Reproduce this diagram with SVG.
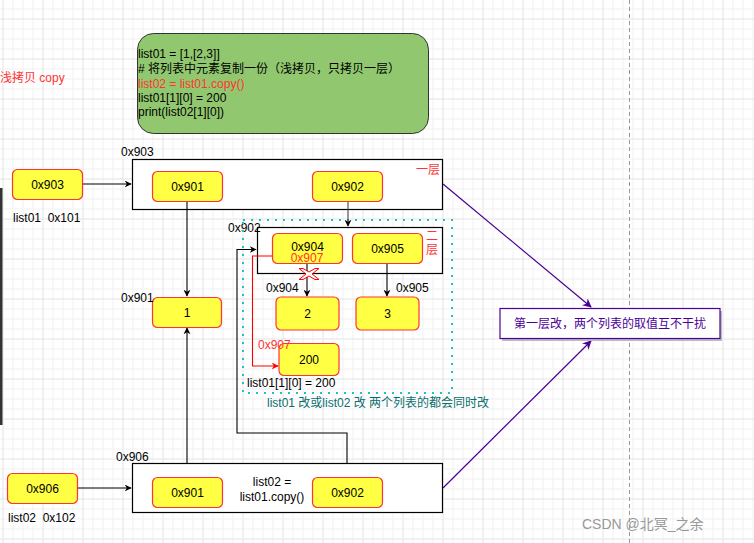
<svg xmlns="http://www.w3.org/2000/svg" width="754" height="543" viewBox="0 0 754 543">
<defs>
<pattern id="minor" width="10" height="10" patternUnits="userSpaceOnUse" x="2.5" y="8.5">
<path d="M0 0.5H10M0.5 0V10" fill="none" stroke="#f1f1f1" stroke-width="1"/>
</pattern>
<pattern id="major" width="40" height="40" patternUnits="userSpaceOnUse" x="2.5" y="18.5">
<path d="M0 0H40M0 0V40" fill="none" stroke="#dcdcdc" stroke-width="1"/>
</pattern>
<marker id="ab" viewBox="0 0 10 10" refX="9" refY="5" markerWidth="7" markerHeight="7" orient="auto" markerUnits="userSpaceOnUse">
<path d="M0 0L10 5L0 10L3 5Z" fill="#000"/>
</marker>
<marker id="ar" viewBox="0 0 10 10" refX="9" refY="5" markerWidth="7" markerHeight="7" orient="auto" markerUnits="userSpaceOnUse">
<path d="M0 0L10 5L0 10L3 5Z" fill="#ff0000"/>
</marker>
<marker id="ap" viewBox="0 0 10 10" refX="9" refY="5" markerWidth="9" markerHeight="9" orient="auto" markerUnits="userSpaceOnUse">
<path d="M0 0L10 5L0 10L3 5Z" fill="#4c0099"/>
</marker>
<style>
text{font-family:"Liberation Sans","Noto Sans CJK SC",sans-serif;font-size:12px;fill:#000}
.y{fill:#ffff44;stroke:#ff3333;stroke-width:1.2}
.c{text-anchor:middle}
.red{fill:#ff3333}
.box{fill:#fff;stroke:#000;stroke-width:1.2}
.ln{fill:none;stroke:#000;stroke-width:1.1}
</style>
</defs>
<rect width="754" height="543" fill="#fff"/>
<rect width="754" height="543" fill="url(#minor)"/>
<rect width="754" height="543" fill="url(#major)"/>
<line x1="629.5" y1="0" x2="629.5" y2="543" stroke="#999" stroke-dasharray="4 3"/>
<rect x="0" y="188" width="2.5" height="237" fill="#333"/>

<text x="0" y="82" class="red">浅拷贝 copy</text>

<g id="code">
<rect x="137.5" y="33.5" width="291" height="100" rx="16" fill="#91c86f" stroke="#333" stroke-width="1"/>
<text x="138" y="58">list01 = [1,[2,3]]</text>
<text x="138" y="73"># 将列表中元素复制一份（浅拷贝，只拷贝一层）</text>
<text x="138" y="87.5" class="red">list02 = list01.copy()</text>
<text x="138" y="102">list01[1][0] = 200</text>
<text x="138" y="116">print(list02[1][0])</text>
</g>

<g id="list01-outer">
<rect x="132.5" y="159.5" width="310" height="50" class="box"/>
<text x="121" y="156">0x903</text>
<text x="440" y="174" class="red" style="text-anchor:end">一层</text>
</g>
<g id="inner">
<rect x="257.5" y="227.5" width="185" height="46" class="box"/>
<text x="228" y="232">0x902</text>
<text x="432" y="240" class="red c">二</text>
<text x="432" y="254" class="red c">层</text>
</g>
<rect x="243" y="220" width="209" height="173" fill="none" stroke="#1cc3c3" stroke-width="2" stroke-dasharray="2 6"/>

<g id="connectors">
<path d="M82 184H131" class="ln" marker-end="url(#ab)"/>
<path d="M77 488H131" class="ln" marker-end="url(#ab)"/>
<path d="M187 201V296" class="ln" marker-end="url(#ab)"/>
<path d="M187 477V328" class="ln" marker-end="url(#ab)"/>
<path d="M348 201V226" class="ln" stroke-width="1.5" style="stroke:#444" marker-end="url(#ab)"/>
<path d="M347 477V433H237V249.5H256" class="ln" marker-end="url(#ab)"/>
<path d="M307 263V296" class="ln" marker-end="url(#ab)"/>
<path d="M387 263V296" class="ln" marker-end="url(#ab)"/>
<path d="M272 256H252.5V366H278" fill="none" stroke="#ff0000" stroke-width="1.1" marker-end="url(#ar)"/>
<path d="M443 184L591 307" fill="none" stroke="#4c0099" stroke-width="1.2" marker-end="url(#ap)"/>
<path d="M443 488L591 341" fill="none" stroke="#4c0099" stroke-width="1.2" marker-end="url(#ap)"/>
</g>

<g id="n0x903"><rect x="12.5" y="169.5" width="70" height="30" rx="5" class="y"/><text x="47.5" y="189" class="c">0x903</text></g>
<text x="13" y="222" xml:space="preserve">list01  0x101</text>
<g id="n0x901a"><rect x="152.5" y="171.5" width="70" height="30" rx="5" class="y"/><text x="187.5" y="191" class="c">0x901</text></g>
<g id="n0x902a"><rect x="312.5" y="171.5" width="70" height="30" rx="5" class="y"/><text x="347.5" y="191" class="c">0x902</text></g>
<g id="n0x904"><rect x="272.5" y="233.5" width="70" height="30" rx="5" class="y"/><text x="307.5" y="251" class="c">0x904</text><text x="307" y="262" class="c red">0x907</text></g>
<g id="n0x905"><rect x="352.5" y="233.5" width="70" height="30" rx="5" class="y"/><text x="387.5" y="253" class="c">0x905</text></g>
<g id="cross"><path d="M299 268.5L303 268.5L309 272L315 268.5L319 268.5L312 274L319 279.5L315 279.5L309 276L303 279.5L299 279.5L306 274Z" fill="#fff" stroke="#ff0000" stroke-width="1"/></g>
<text x="266" y="292">0x904</text>
<text x="396" y="292">0x905</text>
<g id="n1"><rect x="152.5" y="297.5" width="69" height="30" rx="5" class="y"/><text x="187" y="317" class="c">1</text></g>
<text x="121" y="302">0x901</text>
<g id="n2"><rect x="276" y="297" width="63" height="33" rx="5" class="y"/><text x="307.5" y="318" class="c">2</text></g>
<g id="n3"><rect x="356" y="297" width="63" height="33" rx="5" class="y"/><text x="387.5" y="318" class="c">3</text></g>
<g id="n200"><rect x="279" y="343.5" width="60" height="32" rx="5" class="y"/><text x="309" y="364" class="c">200</text></g>
<text x="258" y="349" class="red">0x907</text>
<text x="247" y="387">list01[1][0] = 200</text>
<text x="267" y="407" style="fill:#0b6e6e">list01 改或list02 改 两个列表的都会同时改</text>

<g id="list02-outer">
<rect x="132.5" y="463.5" width="310" height="49" class="box"/>
<text x="116" y="461">0x906</text>
<text x="272" y="486" class="c">list02 =</text>
<text x="272" y="501" class="c">list01.copy()</text>
</g>
<g id="n0x906"><rect x="7.5" y="473.5" width="70" height="30" rx="5" class="y"/><text x="42.5" y="493" class="c">0x906</text></g>
<text x="8" y="522" xml:space="preserve">list02  0x102</text>
<g id="n0x901b"><rect x="152.5" y="477.5" width="70" height="30" rx="5" class="y"/><text x="187.5" y="497" class="c">0x901</text></g>
<g id="n0x902b"><rect x="312.5" y="477.5" width="70" height="30" rx="5" class="y"/><text x="347.5" y="497" class="c">0x902</text></g>

<g id="note">
<rect x="502" y="311" width="220" height="30" fill="#bbb"/>
<rect x="500" y="308.5" width="220" height="30" fill="#fff" stroke="#4c0099" stroke-width="1.2"/>
<text x="610" y="327.5" class="c" style="fill:#4c0099">第一层改，两个列表的取值互不干扰</text>
</g>
<text x="582" y="529" style="font-size:14px;fill:#999">CSDN @北冥_之余</text>
</svg>
